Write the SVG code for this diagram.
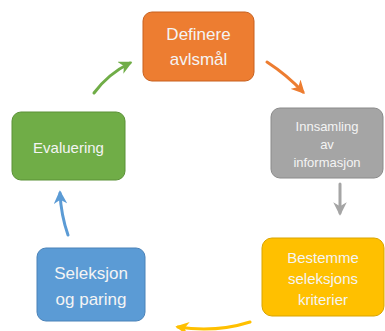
<svg xmlns="http://www.w3.org/2000/svg" width="385" height="331" viewBox="0 0 385 331">
<defs>
<style>
text{font-family:"Liberation Sans","Noto Sans",Arial,sans-serif;fill:#f4f4f4;text-anchor:middle}
.c{fill:none;stroke-width:3;stroke-linecap:round;stroke-linejoin:round}
</style>
<marker id="ag" viewBox="0 0 10 10" refX="8" refY="5" markerWidth="4.5" markerHeight="4.5" orient="auto"><path d="M0,0 L10,5 L0,10 L3,5 z" fill="#70AD47"/></marker>
<marker id="ao" viewBox="0 0 10 10" refX="8" refY="5" markerWidth="4.5" markerHeight="4.5" orient="auto"><path d="M0,0 L10,5 L0,10 L3,5 z" fill="#ED7D31"/></marker>
<marker id="ay" viewBox="0 0 10 10" refX="8" refY="5" markerWidth="4.5" markerHeight="4.5" orient="auto"><path d="M0,0 L10,5 L0,10 L3,5 z" fill="#FFC000"/></marker>
<marker id="ab" viewBox="0 0 10 10" refX="8" refY="5" markerWidth="4.5" markerHeight="4.5" orient="auto"><path d="M0,0 L10,5 L0,10 L3,5 z" fill="#5B9BD5"/></marker>
<marker id="aa" viewBox="0 0 10 10" refX="8" refY="5" markerWidth="4.5" markerHeight="4.5" orient="auto"><path d="M0,0 L10,5 L0,10 L3,5 z" fill="#A5A5A5"/></marker>
</defs>
<rect width="385" height="331" fill="#ffffff"/>
<g id="connectors">
<path class="c" d="M94,93 Q108,74 130,63" stroke="#70AD47" marker-end="url(#ag)"/>
<path class="c" d="M267,62 Q287,75 303,92" stroke="#ED7D31" marker-end="url(#ao)"/>
<path class="c" d="M340,184 L340,213" stroke="#A5A5A5" marker-end="url(#aa)"/>
<path class="c" d="M250,322 Q215,333 178,327" stroke="#FFC000" marker-end="url(#ay)"/>
<path class="c" d="M68,235 Q61,215 60,193" stroke="#5B9BD5" marker-end="url(#ab)"/>
</g>
<g id="definere">
<rect x="143" y="12" width="111" height="69" rx="9" fill="#ED7D31" stroke="#C8611F"/>
<text x="198.5" y="40" font-size="17">Definere</text>
<text x="198.5" y="65" font-size="17">avlsmål</text>
</g>
<g id="innsamling">
<rect x="271" y="108" width="112" height="70" rx="9" fill="#A5A5A5" stroke="#8A8A8A"/>
<text x="327" y="131" font-size="13">Innsamling</text>
<text x="327" y="149" font-size="13">av</text>
<text x="327" y="167" font-size="13">informasjon</text>
</g>
<g id="bestemme">
<rect x="262" y="238" width="122" height="78" rx="10" fill="#FFC000" stroke="#D9A400"/>
<text x="323" y="263" font-size="15">Bestemme</text>
<text x="323" y="284" font-size="15">seleksjons</text>
<text x="323" y="305" font-size="15">kriterier</text>
</g>
<g id="seleksjon">
<rect x="37" y="248" width="108" height="73" rx="9" fill="#5B9BD5" stroke="#4A82B8"/>
<text x="91" y="279" font-size="17">Seleksjon</text>
<text x="91" y="305" font-size="17">og paring</text>
</g>
<g id="evaluering">
<rect x="12" y="112" width="113" height="68" rx="9" fill="#70AD47" stroke="#5A9136"/>
<text x="68.5" y="153" font-size="15">Evaluering</text>
</g>
</svg>
